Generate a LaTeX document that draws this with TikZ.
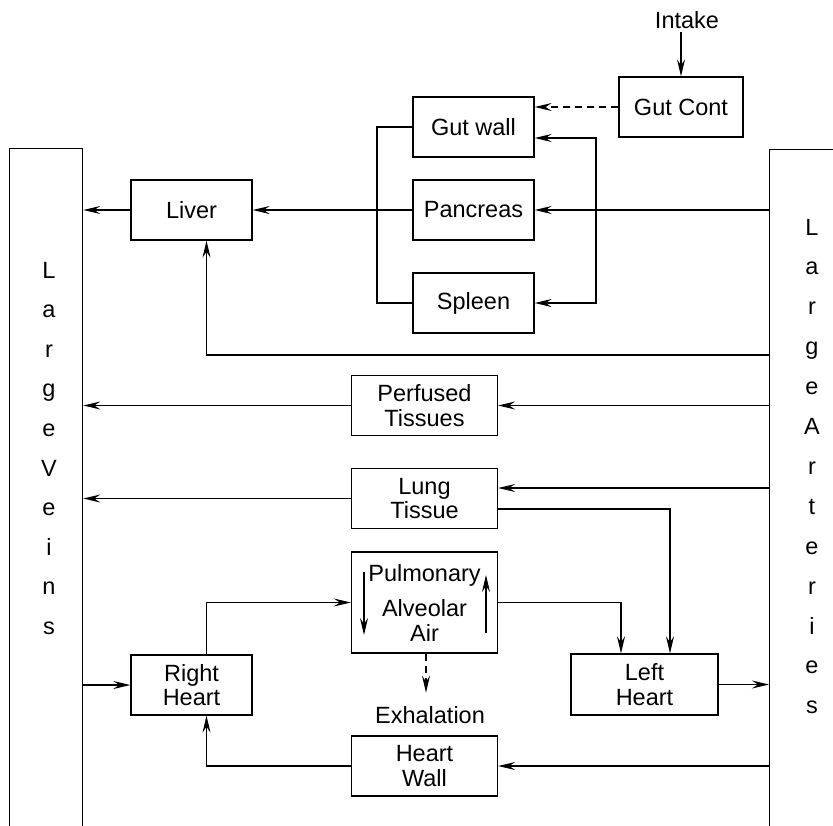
\documentclass[tikz,border=0pt]{standalone}
\usepackage{fontspec}
\setmainfont{Liberation Sans}
\usetikzlibrary{arrows.meta}
\tikzset{
  box/.style={draw,line width=1.3pt,minimum width=121pt,minimum height=60pt,
              inner sep=0pt,align=center,font=\fontsize{23.5}{24.5}\selectfont},
  widebox/.style={box,minimum width=146pt},
  pool/.style={draw,line width=1.3pt,anchor=north west,inner sep=0pt,minimum height=700pt},
  lbl/.style={font=\fontsize{23.5}{24.5}\selectfont},
  letter/.style={font=\fontsize{23.5}{23.5}\selectfont,anchor=base,inner sep=0pt},
  flow/.style={line width=1.3pt},
  arr/.style={flow,-{Stealth[length=17pt,width=8pt,inset=6pt]}},
  dashline/.style={dash pattern=on 7pt off 5pt},
}

\begin{document}
\begin{tikzpicture}[x=1pt,y=-1pt]
  \useasboundingbox (0,0) rectangle (833,825);
  % large veins and arteries
  \node[pool,minimum width=73pt] (veins) at (9,148) {};
  \node[pool,minimum width=80pt] (art) at (769,149) {};
  \foreach \ch [count=\i from 0] in {L,a,r,g,e,V,e,i,n,s}
    \node[letter] (v\i) at (49,278+39.6*\i) {\ch};
  \foreach \ch [count=\i from 0] in {L,a,r,g,e,A,r,t,e,r,i,e,s}
    \node[letter] (a\i) at (812,235+39.9*\i) {\ch};
  % compartments
  \node[box,minimum width=124pt] (gutcont) at (681,107) {Gut Cont};
  \node[box] (gutwall) at (473.5,127) {Gut wall};
  \node[box] (pancreas) at (473.5,210) {Pancreas};
  \node[box] (spleen) at (473.5,303) {Spleen};
  \node[box] (liver) at (191.5,210) {Liver};
  \node[widebox] (perf) at (424.5,405.5) {Perfused\\Tissues};
  \node[widebox] (lung) at (424.5,498.5) {Lung\\Tissue};
  \node[widebox,minimum height=101pt] (pulm) at (424.5,602.5) {Pulmonary\\[11pt]Alveolar\\Air};
  \node[box] (rheart) at (191.5,685) {Right\\Heart};
  \node[widebox,minimum width=147pt,minimum height=61pt] (lheart) at (644.5,684.5) {Left\\Heart};
  \node[widebox] (hwall) at (424.5,766) {Heart\\Wall};
  \node[lbl] (intake) at (687,20) {Intake};
  \node[lbl] (exhal) at (430,715) {Exhalation};
  \coordinate (split) at (596,211);
  \coordinate (join) at (377,211);
  % gut
  \draw[arr] (gutcont.north |- intake.south) -- (gutcont.north);
  \draw[arr,dashline] (gutcont.west) -- (gutcont.west -| gutwall.east);
  \draw[arr] (art.west |- pancreas.east) -- (pancreas.east);
  \draw[arr] (split) |- ([yshift=-11pt]gutwall.east);
  \draw[arr] (split) |- (spleen.east);
  \draw[flow] (gutwall.west) -| (join) |- (spleen.west);
  \draw[arr] (pancreas.west) -- (liver.east);
  \draw[arr] (liver.west) -- (liver.west -| veins.east);
  \draw[arr] (art.west |- 0,355) -| ([xshift=15pt]liver.south);
  % tissues
  \draw[arr] (art.west |- perf.east) -- (perf.east);
  \draw[arr] (perf.west) -- (perf.west -| veins.east);
  \draw[arr] (art.west |- 0,488) -- ([yshift=10.5pt]lung.east);
  \draw[arr] (lung.west) -- (lung.west -| veins.east);
  \draw[arr] ([yshift=-10.5pt]lung.east) -| ([xshift=25.5pt]lheart.north);
  % heart and lungs
  \draw[arr] (veins.east |- rheart.west) -- (rheart.west);
  \draw[arr] ([xshift=15pt]rheart.north) |- (pulm.west);
  \draw[arr] (pulm.east) -| ([xshift=-23.5pt]lheart.north);
  \draw[arr] (lheart.east) -- (lheart.east -| art.west);
  \draw[arr] ([xshift=-60.5pt,yshift=30.5pt]pulm.center) -- ([xshift=-60.5pt,yshift=-32.5pt]pulm.center);
  \draw[arr] ([xshift=61.5pt,yshift=-30.5pt]pulm.center) -- ([xshift=61.5pt,yshift=27.5pt]pulm.center);
  \draw[arr,dashline] ([xshift=1.5pt]pulm.south) -- ([xshift=1.5pt,yshift=-39pt]pulm.south);
  \draw[arr] (art.west |- hwall.east) -- (hwall.east);
  \draw[arr] (hwall.west) -| ([xshift=15pt]rheart.south);
\end{tikzpicture}
\end{document}
